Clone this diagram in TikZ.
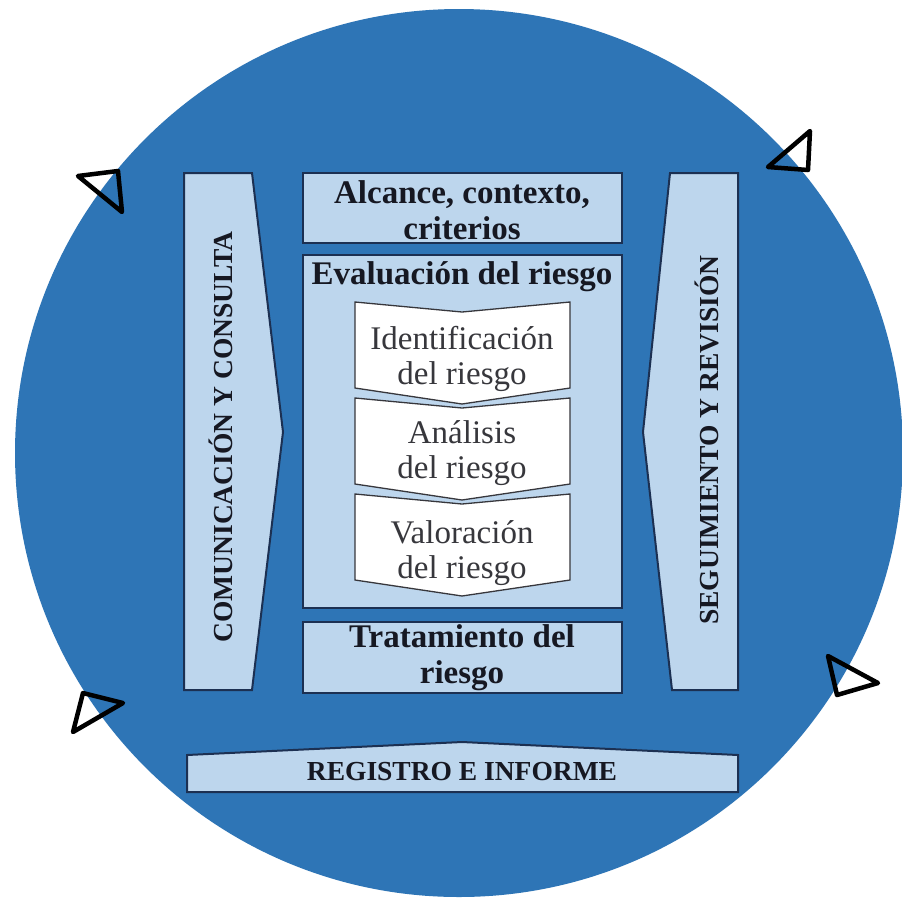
\documentclass[tikz,border=0pt]{standalone}
\usepackage{fontspec}
\setmainfont{Liberation Serif}
\definecolor{ringblue}{RGB}{46,117,182}
\definecolor{paleblue}{RGB}{189,214,237}
\definecolor{edgeblue}{RGB}{28,48,82}
\definecolor{inkdark}{RGB}{22,24,34}
\definecolor{inkgray}{RGB}{55,55,60}

\begin{document}
\begin{tikzpicture}[x=1pt, y=-1pt,
	panel/.style={draw=edgeblue, line width=2pt, fill=paleblue},
	stage/.style={draw=inkgray, line width=1.3pt, fill=white},
	cue/.style={draw=black, line width=4.5pt, line join=round},
	heading/.style={font=\fontsize{33}{36}\selectfont\bfseries, align=center, text=inkdark},
	capsline/.style={font=\fontsize{27.5}{30}\selectfont\bfseries, text=inkdark},
	inner/.style={font=\fontsize{33}{35}\selectfont, align=center, text=inkgray}]
	\fill[white] (0,0) rectangle (902,898);
	\useasboundingbox (0,0) rectangle (902,898);
	\fill[ringblue] (459,453) ellipse [x radius=444, y radius=444];
	\draw[cue] (78,176)--(118,171)--(122,212)--cycle;
	\draw[cue] (768,167)--(810,131)--(808,170)--cycle;
	\draw[cue] (83,693)--(123,703)--(73,732)--cycle;
	\draw[cue] (828,656)--(878,683)--(837,695)--cycle;
	\draw[panel] (184,173)--(252,173)--(283,432)--(252,690)--(184,690)--cycle;
	\draw[panel] (670,173)--(738,173)--(738,690)--(672,690)--(643,432)--cycle;
	\draw[panel] (303,173) rectangle (622,243);
	\draw[panel] (303,255) rectangle (622,608);
	\draw[panel] (303,622) rectangle (622,693);
	\draw[panel] (187,755)--(462,742)--(738,755)--(738,792)--(187,792)--cycle;
	\draw[stage] (355,302)--(462,312)--(570,302)--(570,388)--(462,404)--(355,388)--cycle;
	\draw[stage] (355,398)--(462,408)--(570,398)--(570,484)--(462,500)--(355,484)--cycle;
	\draw[stage] (355,494)--(462,504)--(570,494)--(570,580)--(462,596)--(355,580)--cycle;
	\node[capsline, rotate=90] (co) at (221,437) {COMUNICACIÓN Y CONSULTA};
	\node[capsline, rotate=90] (se) at (707,440) {SEGUIMIENTO Y REVISIÓN};
	\node[heading] (ac) at (462,210) {Alcance, contexto,\\criterios};
	\node[heading] (ev) at (462,277) {Evaluación del riesgo};
	\node[inner] (id) at (462,359) {Identificación\\del riesgo};
	\node[inner] (an) at (462,453) {Análisis\\del riesgo};
	\node[inner] (va) at (462,553) {Valoración\\del riesgo};
	\node[heading] (tr) at (462,658) {Tratamiento del\\riesgo};
	\node[capsline] (re) at (462,772) {REGISTRO E INFORME};
\end{tikzpicture}
\end{document}
